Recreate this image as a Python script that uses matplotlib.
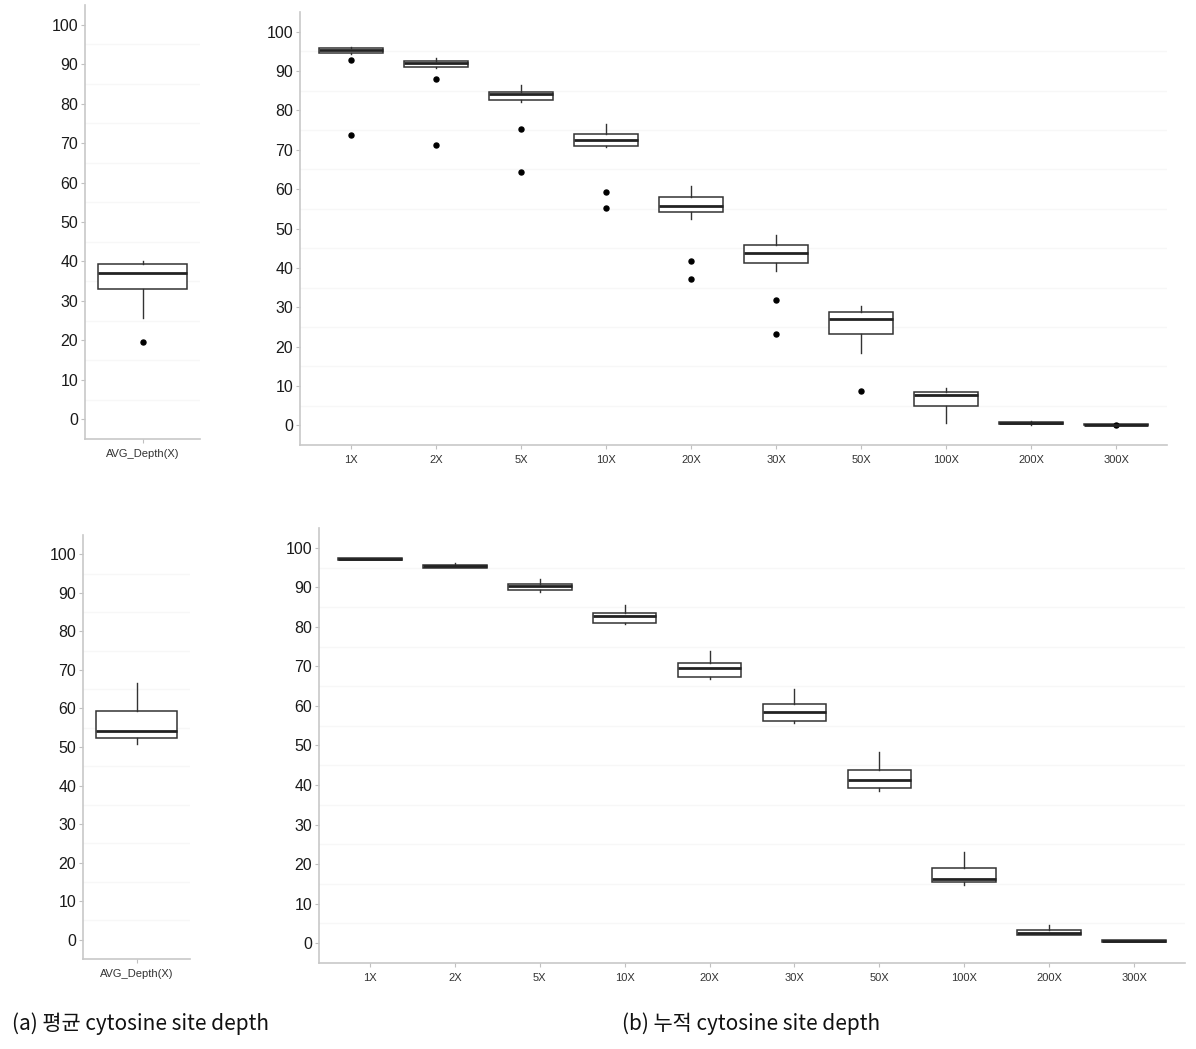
import matplotlib
matplotlib.use("Agg")
import matplotlib.pyplot as plt

plt.rcParams['font.family'] = ['Liberation Sans', 'Noto Sans CJK KR', 'DejaVu Sans']

# depth categories
depth_labels = ['1X', '2X', '5X', '10X', '20X', '30X', '50X', '100X', '200X', '300X']

# (a) top: average depth
avg_top_label = 'AVG_Depth(X)'
avg_top_q1 = [33.0]
avg_top_med = [37.2]
avg_top_q3 = [39.3]
avg_top_lo = [25.6]
avg_top_hi = [40.0]
avg_top_fliers = [[19.5]]

# (b) top: cumulative depth
cum_top_q1 = [94.5, 91.1, 82.7, 71.0, 54.3, 41.2, 23.2, 5.0, 0.25, 0.0]
cum_top_med = [95.4, 92.1, 84.1, 72.5, 55.6, 43.8, 27.0, 7.6, 0.5, 0.15]
cum_top_q3 = [95.8, 92.6, 84.8, 74.0, 57.9, 45.7, 28.7, 8.4, 0.75, 0.3]
cum_top_lo = [94.3, 90.8, 82.1, 70.7, 52.5, 39.1, 18.4, 0.6, 0.2, 0.0]
cum_top_hi = [96.0, 93.4, 86.5, 76.6, 60.7, 48.4, 30.4, 9.5, 1.0, 0.35]
cum_top_fliers = [[92.7, 73.7], [87.9, 71.2], [75.2, 64.4], [59.2, 55.3],
                  [41.8, 37.2], [31.9, 23.2], [8.6], [], [], [0.2]]

# (a) bottom: average depth
avg_bot_q1 = [52.4]
avg_bot_med = [54.2]
avg_bot_q3 = [59.3]
avg_bot_lo = [50.9]
avg_bot_hi = [66.6]
avg_bot_fliers = [[]]

# (b) bottom: cumulative depth
cum_bot_q1 = [96.9, 94.9, 89.3, 81.1, 67.2, 56.2, 39.3, 15.5, 2.2, 0.3]
cum_bot_med = [97.2, 95.3, 90.3, 82.8, 69.6, 58.5, 41.2, 16.2, 2.5, 0.5]
cum_bot_q3 = [97.4, 95.7, 90.9, 83.6, 70.8, 60.4, 43.9, 19.0, 3.4, 0.75]
cum_bot_lo = [96.8, 94.8, 88.9, 80.7, 66.8, 55.6, 38.5, 14.6, 2.0, 0.2]
cum_bot_hi = [97.5, 96.1, 92.0, 85.6, 74.0, 64.2, 48.4, 23.0, 4.6, 0.9]
cum_bot_fliers = [[] for _ in depth_labels]

W, H = 1196, 1049
fig = plt.figure(figsize=(W / 100, H / 100), dpi=100)


def make_ax(left, right, top, bottom):
    return fig.add_axes([left / W, 1 - bottom / H, (right - left) / W, (bottom - top) / H])


def draw_panel(ax, labels, q1, med, q3, lo, hi, fliers, width):
    stats = []
    for i in range(len(labels)):
        stats.append(dict(q1=q1[i], med=med[i], q3=q3[i], whislo=lo[i],
                          whishi=hi[i], fliers=fliers[i], label=labels[i]))
    pos = list(range(1, len(labels) + 1))
    for g in range(5, 100, 10):
        ax.axhline(g, color='#f7f7f7', lw=1.0, zorder=0)
    ax.bxp(stats, positions=pos, widths=width, patch_artist=True, showcaps=False,
           boxprops=dict(facecolor='white', edgecolor='#333333', linewidth=1.1),
           medianprops=dict(color='#222222', linewidth=2.0),
           whiskerprops=dict(color='#333333', linewidth=1.0),
           flierprops=dict(marker='o', markerfacecolor='black', markeredgecolor='black',
                           markersize=3.6, linestyle='none'))
    ax.set_xlim(0.4, len(labels) + 0.6)
    ax.set_ylim(-5, 105)
    ax.set_yticks(range(0, 101, 10))
    ax.set_xticks(pos)
    ax.set_xticklabels(labels, fontsize=8, color='#333333')
    for s in ['top', 'right']:
        ax.spines[s].set_visible(False)
    for s in ['left', 'bottom']:
        ax.spines[s].set_color('#c8c8c8')
        ax.spines[s].set_linewidth(1.2)
    ax.tick_params(axis='y', labelsize=11.5, colors='#c0c0c0', labelcolor='#1a1a1a', length=3, pad=2)
    ax.tick_params(axis='x', colors='#c0c0c0', labelcolor='#333333', length=3, pad=4)


ax1 = make_ax(85, 200, 5, 439)
draw_panel(ax1, [avg_top_label], avg_top_q1, avg_top_med, avg_top_q3,
           avg_top_lo, avg_top_hi, avg_top_fliers, 0.92)

ax2 = make_ax(300, 1167, 12, 445)
draw_panel(ax2, depth_labels, cum_top_q1, cum_top_med, cum_top_q3,
           cum_top_lo, cum_top_hi, cum_top_fliers, 0.75)

ax3 = make_ax(83, 190, 535, 959)
draw_panel(ax3, [avg_top_label], avg_bot_q1, avg_bot_med, avg_bot_q3,
           avg_bot_lo, avg_bot_hi, avg_bot_fliers, 0.9)

ax4 = make_ax(319, 1185, 528, 963)
draw_panel(ax4, depth_labels, cum_bot_q1, cum_bot_med, cum_bot_q3,
           cum_bot_lo, cum_bot_hi, cum_bot_fliers, 0.75)

cap_font = ['Noto Sans CJK KR', 'DejaVu Sans']
fig.text(12 / W, 1 - 1024 / H, '(a) 평균 cytosine site depth', fontsize=15,
         family=cap_font, va='center', ha='left', color='#111111')
fig.text(622 / W, 1 - 1024 / H, '(b) 누적 cytosine site depth', fontsize=15,
         family=cap_font, va='center', ha='left', color='#111111')

fig.savefig('out.png', dpi=100, facecolor='white')
